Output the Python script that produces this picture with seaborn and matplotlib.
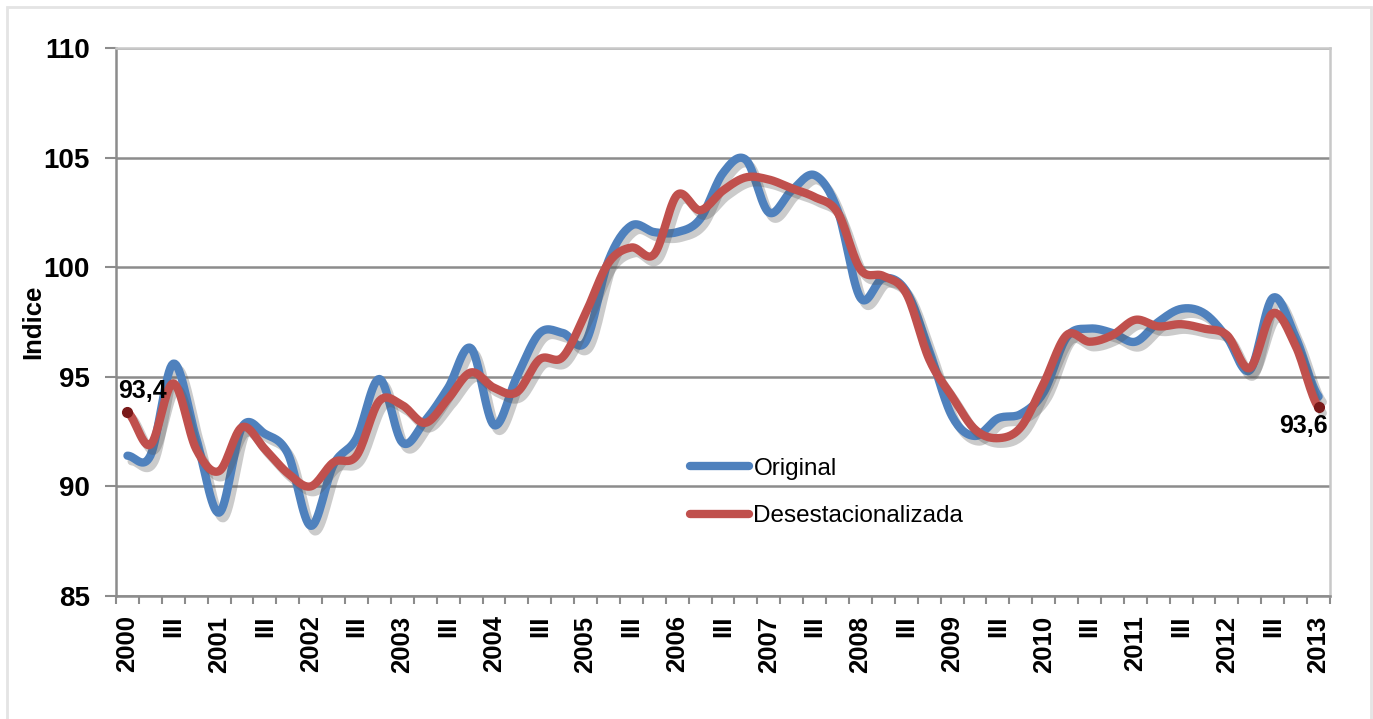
import matplotlib
matplotlib.use('Agg')
import matplotlib.pyplot as plt
import matplotlib.patheffects as pe
from matplotlib.lines import Line2D
from matplotlib.patches import Rectangle
import seaborn as sns
import numpy as np
import pandas as pd

# quarterly index, 2000 I .. 2013 I
years = list(range(2000, 2014))
original = [91.4, 91.4, 95.6, 92.2, 88.8, 92.7, 92.4, 91.5, 88.2, 91.0, 92.2, 94.9,
            92.0, 93.0, 94.5, 96.3, 92.8, 95.0, 97.0, 97.0, 96.6, 100.3, 101.9, 101.6,
            101.6, 102.2, 104.3, 104.9, 102.5, 103.5, 104.2, 102.6, 98.6, 99.5, 98.9,
            96.2, 93.2, 92.3, 93.1, 93.3, 94.3, 96.8, 97.2, 97.0, 96.6, 97.5, 98.1,
            97.9, 96.8, 95.3, 98.6, 96.8, 94.1]
desest = [93.4, 91.9, 94.7, 91.7, 90.7, 92.7, 91.7, 90.6, 90.0, 91.1, 91.4, 93.9,
          93.7, 92.9, 94.0, 95.2, 94.5, 94.3, 95.8, 95.9, 97.9, 100.2, 100.9, 100.6,
          103.3, 102.6, 103.5, 104.1, 104.0, 103.6, 103.2, 102.5, 99.9, 99.6, 98.8,
          95.8, 94.1, 92.6, 92.2, 92.7, 94.7, 96.9, 96.6, 96.9, 97.6, 97.3, 97.4,
          97.2, 96.9, 95.4, 97.9, 96.4, 93.6]
series_names = ['Original', 'Desestacionalizada']
colors = ['#4F81BD', '#C0504D']


def smooth(y, n=16):
    # excel-like smoothed line (catmull-rom through the points)
    y = np.asarray(y, float)
    p = np.concatenate([[y[0]], y, [y[-1]]])
    xs, ys = [], []
    for i in range(len(y) - 1):
        p0, p1, p2, p3 = p[i], p[i + 1], p[i + 2], p[i + 3]
        t = np.linspace(0, 1, n, endpoint=False)
        yy = 0.5 * ((2 * p1) + (-p0 + p2) * t + (2 * p0 - 5 * p1 + 4 * p2 - p3) * t ** 2
                    + (-p0 + 3 * p1 - 3 * p2 + p3) * t ** 3)
        xs.extend(i + t)
        ys.extend(yy)
    xs.append(len(y) - 1)
    ys.append(y[-1])
    return np.array(xs), np.array(ys)


frames = []
for name, vals in zip(series_names, [original, desest]):
    sx, sy = smooth(vals)
    frames.append(pd.DataFrame({'x': sx, 'y': sy, 'serie': name}))
df = pd.concat(frames, ignore_index=True)

sns.set_style('white')
plt.rcParams['font.family'] = ['Liberation Sans', 'DejaVu Sans']
plt.rcParams['text.color'] = 'black'
plt.rcParams['axes.labelcolor'] = 'black'
plt.rcParams['xtick.labelcolor'] = 'black'
plt.rcParams['ytick.labelcolor'] = 'black'

fig = plt.figure(figsize=(13.73, 7.19), dpi=100)
ax = fig.add_axes([0.0845, 0.1711, 0.8842, 0.7621])

shadow = [pe.SimpleLineShadow(offset=(3, -4), shadow_color='#555555', alpha=0.3),
          pe.Normal()]
sns.lineplot(data=df, x='x', y='y', hue='serie', palette=colors, sort=False,
             estimator=None, linewidth=6, ax=ax, legend=False)
for ln in ax.lines:
    ln.set_solid_capstyle('round')
    ln.set_solid_joinstyle('round')
    ln.set_path_effects(shadow)

n = len(original)
ax.set_xlim(-0.5, n - 0.5)
ax.set_ylim(85, 110)
ax.set_yticks(range(85, 111, 5))
ax.yaxis.grid(True, color='#8c8c8c', linewidth=1.8)
ax.set_axisbelow(True)

labels = []
for i in range(0, n, 2):
    labels.append(str(years[i // 4]) if i % 4 == 0 else 'III')
ax.set_xticks(range(0, n, 2))
ax.set_xticklabels(labels, rotation=90, fontsize=18.5, fontweight='bold')
ax.set_xticks(np.arange(-0.5, n, 1), minor=True)
ax.tick_params(axis='x', which='major', length=0, pad=14)
ax.tick_params(axis='x', which='minor', length=6, width=1.5, color='#8c8c8c', direction='out', bottom=True)
ax.tick_params(axis='y', length=8, width=1.5, color='#8c8c8c', direction='out', left=True, pad=11)
for t in ax.get_yticklabels():
    t.set_fontsize(20)
    t.set_fontweight('bold')
ax.set_ylabel('Indice', fontsize=18.5, fontweight='bold')
ax.yaxis.set_label_coords(-0.0585, 0.5)
ax.set_xlabel('')

for side in ['left', 'bottom']:
    ax.spines[side].set_color('#8c8c8c')
    ax.spines[side].set_linewidth(1.8)
for side in ['top', 'right']:
    ax.spines[side].set_color('#c8c8c8')
    ax.spines[side].set_linewidth(1.8)

# end point markers and labels
ax.plot([0, n - 1], [desest[0], desest[-1]], 'o', color='#7a1a1a', markersize=7, zorder=5)
ax.annotate('93,4', (0, desest[0]), xytext=(11, 15), textcoords='offset points',
            ha='center', va='center', fontsize=18, fontweight='bold')
ax.annotate('93,6', (n - 1, desest[-1]), xytext=(-11, -13), textcoords='offset points',
            ha='center', va='center', fontsize=18, fontweight='bold')

handles = [Line2D([], [], color=c, linewidth=6, solid_capstyle='round') for c in colors]
ax.legend(handles, series_names, loc='center left', bbox_to_anchor=(0.473, 0.189),
          frameon=False, fontsize=17.5, handlelength=2.4, handletextpad=0.2,
          labelspacing=1.05, borderpad=0, borderaxespad=0)

fig.add_artist(Rectangle((7 / 1373, -0.01), 1364 / 1373, 1 - 7 / 719 + 0.01,
                         transform=fig.transFigure, fill=False, edgecolor='#e4e4e4', linewidth=2))

fig.savefig('out.png', dpi=100)
